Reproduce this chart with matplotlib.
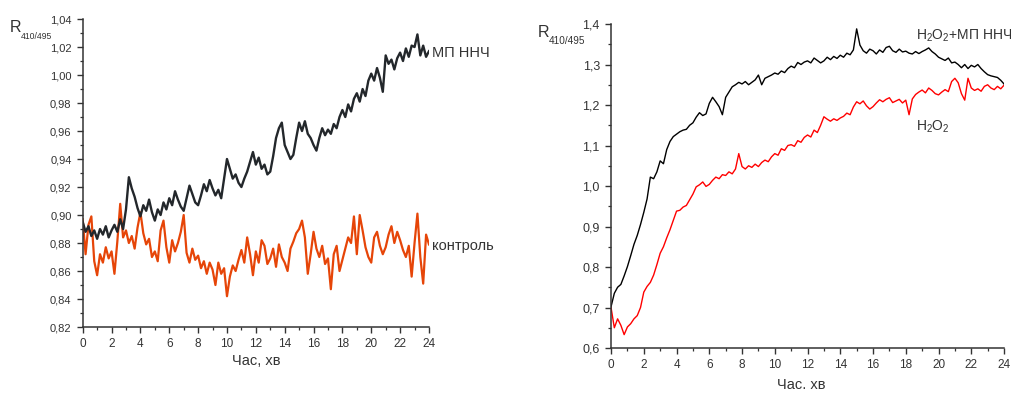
import matplotlib
matplotlib.use("Agg")
import matplotlib.pyplot as plt
from matplotlib.ticker import MultipleLocator, FuncFormatter
import numpy as np

plt.rcParams["font.family"] = ["Liberation Sans", "DejaVu Sans"]
plt.rcParams["mathtext.fontset"] = "custom"
plt.rcParams["mathtext.rm"] = "Liberation Sans"
plt.rcParams["mathtext.it"] = "Liberation Sans:italic"

# readings every 0.2 min, 0..24 min
mf_nnch = [
    0.895, 0.888, 0.892, 0.885, 0.889, 0.883, 0.890, 0.886, 0.892, 0.884,
    0.889, 0.893, 0.888, 0.897, 0.890, 0.904, 0.927, 0.919, 0.913, 0.905,
    0.899, 0.907, 0.903, 0.911, 0.902, 0.896, 0.904, 0.900, 0.909, 0.904,
    0.912, 0.907, 0.917, 0.911, 0.906, 0.903, 0.912, 0.921, 0.915, 0.909,
    0.907, 0.914, 0.922, 0.917, 0.925, 0.919, 0.914, 0.918, 0.912, 0.926,
    0.940, 0.933, 0.926, 0.929, 0.923, 0.920, 0.926, 0.931, 0.938, 0.945,
    0.936, 0.941, 0.933, 0.936, 0.929, 0.931, 0.942, 0.955, 0.962, 0.966,
    0.950, 0.945, 0.940, 0.943, 0.955, 0.966, 0.960, 0.967, 0.958, 0.955,
    0.950, 0.946, 0.955, 0.962, 0.957, 0.961, 0.958, 0.965, 0.962, 0.970,
    0.975, 0.970, 0.979, 0.974, 0.983, 0.987, 0.981, 0.990, 0.985, 0.996,
    1.001, 0.996, 1.005, 0.998, 0.988, 1.014, 1.008, 1.011, 1.004, 1.012,
    1.016, 1.010, 1.019, 1.013, 1.021, 1.020, 1.029, 1.014, 1.021, 1.013,
    1.017,
]
control = [
    0.897, 0.872, 0.893, 0.899, 0.867, 0.857, 0.872, 0.866, 0.877, 0.869,
    0.874, 0.858, 0.881, 0.908, 0.884, 0.889, 0.880, 0.885, 0.876, 0.891,
    0.902, 0.887, 0.879, 0.883, 0.870, 0.874, 0.867, 0.889, 0.896, 0.877,
    0.866, 0.882, 0.874, 0.880, 0.888, 0.900, 0.873, 0.866, 0.876, 0.868,
    0.871, 0.862, 0.867, 0.858, 0.866, 0.861, 0.850, 0.866, 0.858, 0.862,
    0.842, 0.856, 0.864, 0.860, 0.868, 0.875, 0.866, 0.884, 0.872, 0.857,
    0.874, 0.866, 0.882, 0.878, 0.865, 0.869, 0.876, 0.863, 0.879, 0.870,
    0.866, 0.860, 0.876, 0.881, 0.887, 0.890, 0.896, 0.884, 0.858, 0.872,
    0.888, 0.876, 0.870, 0.878, 0.865, 0.869, 0.847, 0.872, 0.878, 0.860,
    0.868, 0.876, 0.884, 0.880, 0.899, 0.872, 0.900, 0.889, 0.877, 0.870,
    0.866, 0.884, 0.888, 0.878, 0.872, 0.877, 0.886, 0.892, 0.880, 0.888,
    0.882, 0.875, 0.870, 0.878, 0.856, 0.880, 0.901, 0.870, 0.851, 0.886,
    0.879,
]
h2o2_mf = [
    0.702, 0.735, 0.750, 0.757, 0.778, 0.801, 0.828, 0.856, 0.878, 0.905,
    0.935, 0.968, 1.022, 1.018, 1.035, 1.062, 1.055, 1.090, 1.110, 1.122,
    1.128, 1.134, 1.138, 1.140, 1.150, 1.156, 1.170, 1.181, 1.174, 1.178,
    1.204, 1.219, 1.208, 1.196, 1.176, 1.219, 1.232, 1.245, 1.250, 1.256,
    1.252, 1.258, 1.250, 1.256, 1.262, 1.274, 1.250, 1.266, 1.270, 1.274,
    1.279, 1.276, 1.284, 1.280, 1.290, 1.296, 1.292, 1.305, 1.300, 1.306,
    1.309, 1.304, 1.316, 1.310, 1.304, 1.309, 1.318, 1.312, 1.320, 1.315,
    1.323, 1.318, 1.328, 1.324, 1.336, 1.388, 1.348, 1.334, 1.328, 1.338,
    1.334, 1.326, 1.336, 1.330, 1.342, 1.345, 1.334, 1.330, 1.338, 1.331,
    1.333, 1.328, 1.326, 1.332, 1.327, 1.332, 1.336, 1.341, 1.332, 1.326,
    1.318, 1.314, 1.310, 1.316, 1.304, 1.306, 1.300, 1.292, 1.300, 1.290,
    1.298, 1.294, 1.300, 1.290, 1.282, 1.275, 1.272, 1.270, 1.268, 1.261,
    1.252,
]
h2o2 = [
    0.700, 0.650, 0.672, 0.656, 0.633, 0.652, 0.660, 0.672, 0.680, 0.700,
    0.738, 0.752, 0.762, 0.780, 0.806, 0.834, 0.850, 0.872, 0.892, 0.915,
    0.938, 0.940, 0.948, 0.952, 0.966, 0.980, 0.998, 1.003, 1.010, 0.999,
    1.004, 1.014, 1.022, 1.018, 1.028, 1.026, 1.035, 1.030, 1.042, 1.080,
    1.048, 1.042, 1.050, 1.046, 1.054, 1.048, 1.058, 1.064, 1.060, 1.072,
    1.080, 1.076, 1.092, 1.088, 1.100, 1.102, 1.098, 1.112, 1.108, 1.120,
    1.126, 1.121, 1.138, 1.132, 1.150, 1.171, 1.165, 1.160, 1.166, 1.162,
    1.168, 1.172, 1.180, 1.176, 1.195, 1.208, 1.203, 1.210, 1.198, 1.190,
    1.196, 1.205, 1.213, 1.208, 1.214, 1.218, 1.206, 1.210, 1.214, 1.205,
    1.212, 1.176, 1.215, 1.226, 1.232, 1.237, 1.230, 1.242, 1.236, 1.228,
    1.225, 1.232, 1.238, 1.233, 1.258, 1.266, 1.255, 1.228, 1.212, 1.266,
    1.242, 1.236, 1.240, 1.234, 1.246, 1.250, 1.242, 1.238, 1.246, 1.240,
    1.249,
]

TEXT = "#333333"


def comma_fmt(decimals):
    return FuncFormatter(lambda v, _: f"{v:.{decimals}f}".replace(".", ","))


def style_axis(ax, ylo, yhi, ymaj, ymin, dec, ysize):
    for side in ("top", "right"):
        ax.spines[side].set_visible(False)
    for side in ("left", "bottom"):
        ax.spines[side].set_color(TEXT)
        ax.spines[side].set_linewidth(1.1)
    ax.set_xlim(0, 24)
    ax.set_ylim(ylo, yhi)
    ax.xaxis.set_major_locator(MultipleLocator(2))
    ax.xaxis.set_minor_locator(MultipleLocator(1))
    ax.yaxis.set_major_locator(MultipleLocator(ymaj))
    ax.yaxis.set_minor_locator(MultipleLocator(ymin))
    ax.yaxis.set_major_formatter(comma_fmt(dec))
    ax.tick_params(which="major", direction="out", length=4.5, width=1.0,
                   color=TEXT, labelcolor=TEXT, labelsize=8.5)
    ax.tick_params(which="minor", direction="out", length=2.5, width=0.9,
                   color=TEXT)
    ax.tick_params(axis="y", labelsize=ysize)


def r_label(x, y, big, small):
    # R with the 410/495 subscript, placed in figure coords
    fig.text(x, y, "R", fontsize=big, color=TEXT)
    fig.text(x + 0.0105, y - 0.018, "410/495", fontsize=small, color=TEXT)


fig = plt.figure(figsize=(10.11, 3.93), dpi=100)

# left panel
ax1 = fig.add_axes([0.0818, 0.1679, 0.3425, 0.7837])
t1 = np.linspace(0, 24, len(mf_nnch))
ax1.plot(t1, control, color="#e64508", lw=1.6)
ax1.plot(t1, mf_nnch, color="#23272b", lw=1.7)
style_axis(ax1, 0.82, 1.04, 0.02, 0.01, 2, 8)
ax1.set_xlabel("Час, хв", fontsize=10.5, color=TEXT, labelpad=3)
ax1.text(24.2, 1.016, "МП ННЧ", fontsize=10.5, color=TEXT, va="center")
ax1.text(24.2, 0.878, "контроль", fontsize=10.5, color=TEXT, va="center")
r_label(0.010, 0.918, 11.5, 6.2)

# right panel
ax2 = fig.add_axes([0.6044, 0.1145, 0.3887, 0.8244])
t2 = np.linspace(0, 24, len(h2o2))
ax2.plot(t2, h2o2, color="#ff0000", lw=1.0)
ax2.plot(t2, h2o2_mf, color="#000000", lw=1.0)
style_axis(ax2, 0.6, 1.4, 0.1, 0.05, 1, 9)
ax2.set_xlabel("Час. хв", fontsize=10.5, color=TEXT)
ax2.xaxis.set_label_coords(0.485, -0.093)
ax2.text(18.65, 1.372, r"H$_\mathregular{2}$O$_\mathregular{2}$+МП ННЧ",
         fontsize=10, color=TEXT, va="center")
ax2.text(18.65, 1.145, r"H$_\mathregular{2}$O$_\mathregular{2}$",
         fontsize=10, color=TEXT, va="center")
r_label(0.532, 0.905, 11.5, 7.2)

fig.savefig("out.png", dpi=100)
